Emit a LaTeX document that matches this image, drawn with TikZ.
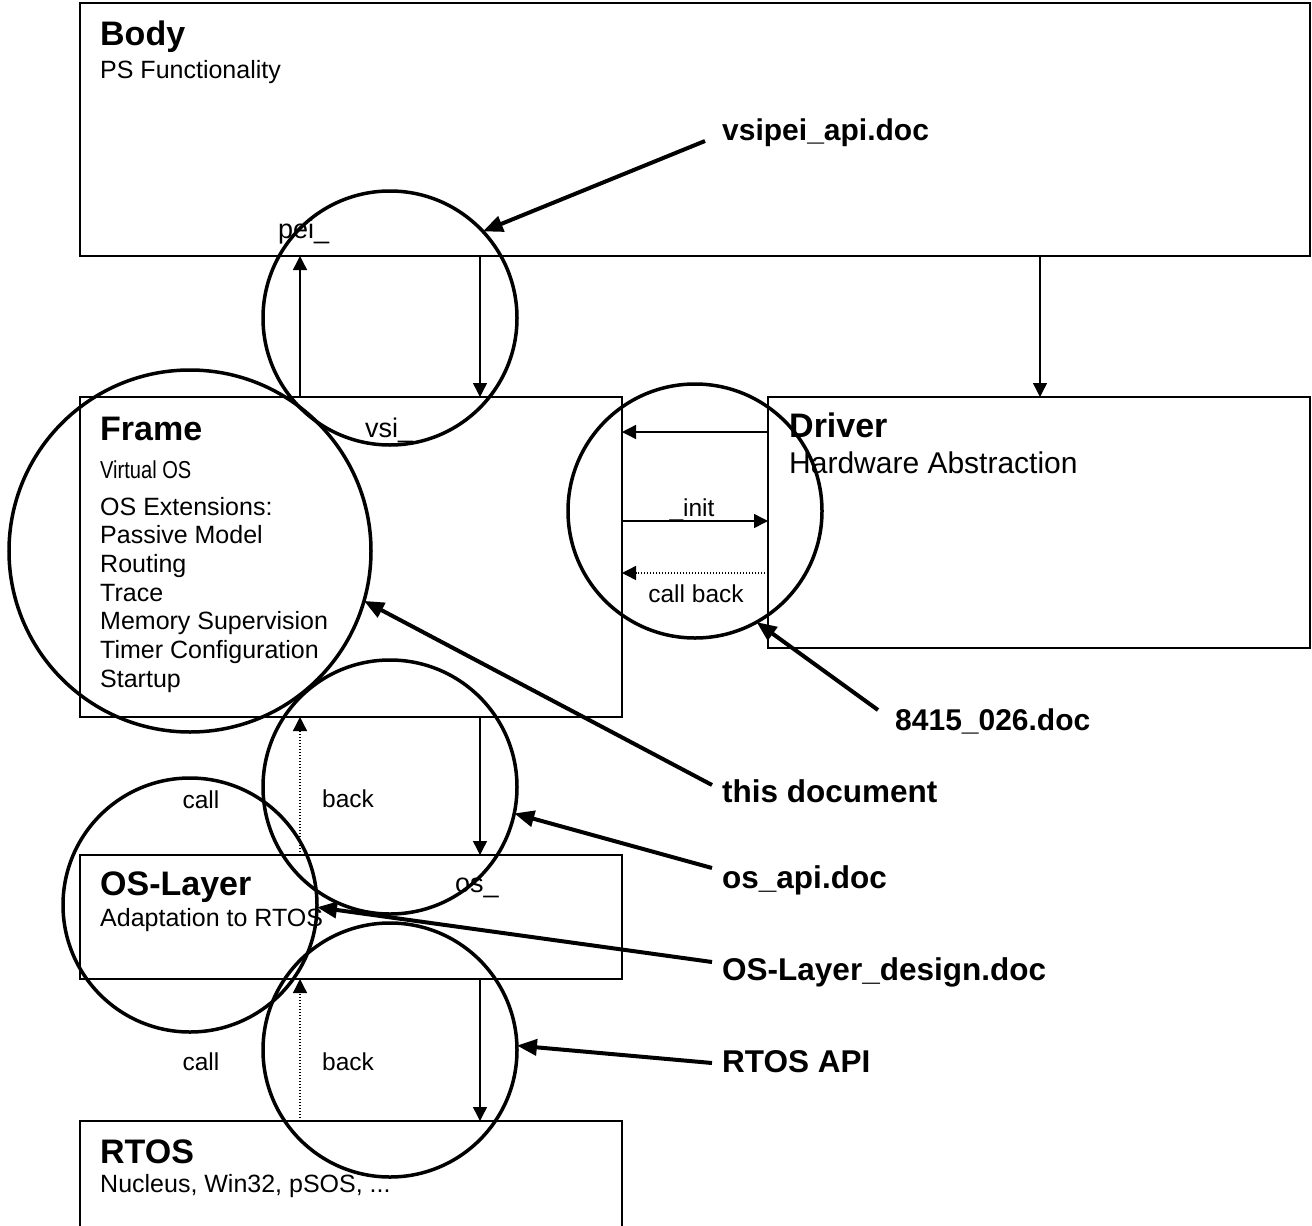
\documentclass[tikz,border=0pt]{standalone}
\usepackage{fontspec}
\setmainfont{Liberation Sans}
\newfontfamily\narrowfont{Liberation Sans}[FakeStretch=0.82]
\usetikzlibrary{arrows.meta}
\begin{document}
\begin{tikzpicture}[x=1pt,y=-1pt,
  box/.style={draw, line width=1.4pt, anchor=north west, inner sep=0pt, outer sep=0pt},
  ring/.style={draw, circle, line width=3.5pt, inner sep=0pt, outer sep=0pt},
  thinarrow/.style={line width=1.4pt, -{Triangle[width=14pt,length=14pt]}},
  dotarrow/.style={thinarrow, dash pattern=on 1.4pt off 1.6pt},
  ptr/.style={line width=4pt, -{Triangle[width=16pt,length=20pt]}},
  head/.style={font=\fontsize{34}{40}\selectfont\bfseries, anchor=base west, inner sep=0pt},
  sub/.style={font=\fontsize{25}{29}\selectfont, anchor=base west, inner sep=0pt},
  lab/.style={font=\fontsize{31.5}{36}\selectfont\bfseries, anchor=base west, inner sep=0pt},
  small/.style={font=\fontsize{24.5}{28}\selectfont, anchor=base, inner sep=0pt},
  iface/.style={font=\fontsize{27}{32}\selectfont, anchor=base west, inner sep=0pt}
]
\useasboundingbox (0,0) rectangle (1312,1226);

% boxes
\node[box, minimum width=1230pt, minimum height=253pt] (body) at (80,3) {};
\node[box, minimum width=542pt, minimum height=320pt] (frame) at (80,397) {};
\node[box, minimum width=542pt, minimum height=251pt] (driver) at (768,397) {};
\node[box, minimum width=542pt, minimum height=124pt] (oslayer) at (80,855) {};
\node[box, minimum width=542pt, minimum height=120pt] (rtos) at (80,1121) {};

% texts in boxes
\node[head] (tbody) at (100,45) {Body};
\node[sub] (tbody2) at (100,78) {PS Functionality};
\node[head] (tframe) at (100,440) {Frame};
\node[sub, font=\fontsize{24.5}{28}\selectfont\narrowfont] (tvos) at (100,478) {Virtual OS};
\foreach \t [count=\i from 0] in {OS Extensions:, Passive Model, Routing, Trace, Memory Supervision, Timer Configuration, Startup}
  \node[sub] (fx\i) at (100,{515+28.7*\i}) {\t};
\node[head] (tdrv) at (789,437) {Driver};
\node[sub, font=\fontsize{30}{34}\selectfont] (tdrv2) at (789,473) {Hardware Abstraction};
\node[head] (tos) at (100,895) {OS-Layer};
\node[sub] (tos2) at (100,926) {Adaptation to RTOS};
\node[head] (trtos) at (100,1163) {RTOS};
\node[sub] (trtos2) at (100,1192) {Nucleus, Win32, pSOS, ...};

% interface labels
\node[iface] (pei) at (278,238) {pei\_};
\node[iface] (vsi) at (365,437) {vsi\_};
\node[iface] (osi) at (455,892) {os\_};
\node[small] (init) at (692,516) {\_init};
\node[small] (cb) at (696,602) {call back};
\node[small] (call1) at (201,808) {call};
\node[small] (back1) at (348,807) {back};
\node[small] (call2) at (201,1070) {call};
\node[small] (back2) at (348,1070) {back};

% thin arrows
\coordinate (a1s) at (300,397); \coordinate (a1e) at (300,256);
\coordinate (a2s) at (480,256); \coordinate (a2e) at (480,397);
\coordinate (a3s) at (1040,256); \coordinate (a3e) at (1040,397);
\coordinate (a4s) at (768,432); \coordinate (a4e) at (622,432);
\coordinate (a5s) at (622,521); \coordinate (a5e) at (768,521);
\coordinate (a6s) at (768,573); \coordinate (a6e) at (622,573);
\coordinate (a7s) at (300,855); \coordinate (a7e) at (300,717);
\coordinate (a8s) at (480,717); \coordinate (a8e) at (480,855);
\coordinate (a9s) at (300,1121); \coordinate (a9e) at (300,979);
\coordinate (a10s) at (480,979); \coordinate (a10e) at (480,1121);
\draw[thinarrow] (a1s) -- (a1e);
\draw[thinarrow] (a2s) -- (a2e);
\draw[thinarrow] (a3s) -- (a3e);
\draw[thinarrow] (a4s) -- (a4e);
\draw[thinarrow] (a5s) -- (a5e);
\draw[dotarrow] (a6s) -- (a6e);
\draw[dotarrow] (a7s) -- (a7e);
\draw[thinarrow] (a8s) -- (a8e);
\draw[dotarrow] (a9s) -- (a9e);
\draw[thinarrow] (a10s) -- (a10e);

% circles
\node[ring, minimum size=254pt] (cA) at (390,318) {};
\node[ring, minimum size=362pt] (cF) at (190,551) {};
\node[ring, minimum size=254pt] (cD) at (695,511) {};
\node[ring, minimum size=254pt] (cC) at (390,787) {};
\node[ring, minimum size=254pt] (cO) at (190,905) {};
\node[ring, minimum size=254pt] (cR) at (390,1050) {};

% document labels
\node[lab, font=\fontsize{30}{36}\selectfont\bfseries] (l1) at (722,140) {vsipei\_api.doc};
\node[lab, font=\fontsize{30}{36}\selectfont\bfseries] (l2) at (895,730) {8415\_026.doc};
\node[lab] (l3) at (722,802) {this document};
\node[lab] (l4) at (722,888) {os\_api.doc};
\node[lab] (l5) at (722,980) {OS-Layer\_design.doc};
\node[lab] (l6) at (722,1072) {RTOS API};

\coordinate (p1) at (705,141);
\coordinate (p2) at (878,710);
\coordinate (p3) at (712,785);
\coordinate (p4) at (712,868);
\coordinate (p5) at (712,962);
\coordinate (p6) at (712,1063);
\draw[ptr] (p1) -- (cA.43);
\draw[ptr] (p2) -- (cD.-61);
\draw[ptr] (p3) -- (cF.-16);
\draw[ptr] (p4) -- (cC.-12);
\draw[ptr] (p5) -- (cO.-1);
\draw[ptr] (p6) -- (cR.2);
\end{tikzpicture}
\end{document}
